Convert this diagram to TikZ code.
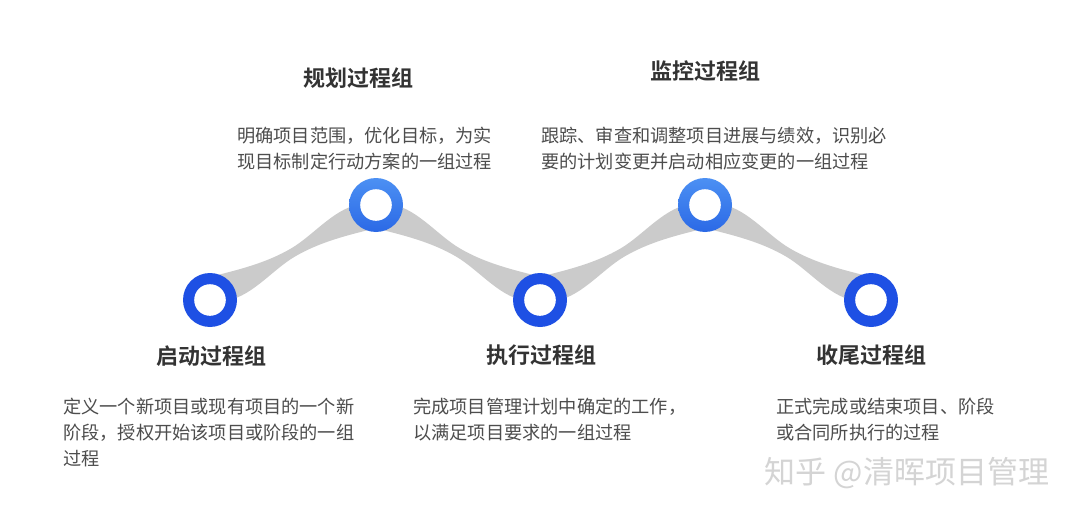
\documentclass[tikz,border=0pt]{standalone}
\usepackage{fontspec}
\usepackage{xcolor}
\usepackage{tikz}
\usetikzlibrary{calc,backgrounds}

\newfontfamily\cjk{Noto Sans CJK SC}
\newfontfamily\cjkbold{Noto Sans CJK SC Bold}

\definecolor{ringdeep}{HTML}{1E50E4}
\definecolor{ringtop}{HTML}{4C90F3}
\definecolor{ringbot}{HTML}{2B69E6}
\definecolor{ribbongray}{HTML}{CBCBCB}
\definecolor{titlegray}{HTML}{333333}
\definecolor{textgray}{HTML}{4D4D4D}
\definecolor{markgray}{HTML}{D4D4D4}

\tikzset{
    ring/.style={circle, minimum size=54pt, inner sep=0pt,
        path picture={\fill[white] (path picture bounding box.center) circle (15.8pt);}},
    ringlo/.style={ring, fill=ringdeep},
    ringhi/.style={ring, top color=ringtop, bottom color=ringbot},
    ribbon/.style={fill=ribbongray},
    title/.style={inner sep=0pt, text=titlegray, font=\cjkbold\fontsize{22}{26}\selectfont},
    desc/.style={inner sep=0pt, anchor=north west, align=left, text=textgray,
        font=\cjk\fontsize{18.2}{25.8}\selectfont},
}

\begin{document}
\begin{tikzpicture}[x=1pt, y=-1pt]
    \useasboundingbox (0,0) rectangle (1080,519);

    % Process group circles
    \foreach \n/\x/\y/\s in {c1/210/300/ringlo, c2/376/205/ringhi, c3/540/300/ringlo,
                             c4/705/205/ringhi, c5/871/300/ringlo} {
        \node[\s] (\n) at (\x,\y) {};
    }

    % Tapered ribbons between circles
    \begin{scope}[on background layer]
        \fill[white] (0,0) rectangle (1080,519);
        \foreach \a/\b/\f in {c1/c2/1, c2/c3/-1, c3/c4/1, c4/c5/-1} {
            \begin{scope}[shift={($(\a)!0.5!(\b)$)}, xscale=\f]
                \fill[ribbon] (-90,26) .. controls (-52,17) and (-26,10) .. (-2,-4)
                    .. controls (22,-18) and (43,-47) .. (72,-49) -- (90,-26)
                    .. controls (52,-17) and (26,-10) .. (2,4)
                    .. controls (-22,18) and (-43,47) .. (-72,49) -- cycle;
            \end{scope}
        }
    \end{scope}

    % Titles
    \node[title] (t1) at (211,356) {启动过程组};
    \node[title] (t2) at (358,78) {规划过程组};
    \node[title] (t3) at (541,355) {执行过程组};
    \node[title] (t4) at (705,71) {监控过程组};
    \node[title] (t5) at (871,355) {收尾过程组};

    % Descriptions
    \node[desc] (d1) at (63,398) {定义一个新项目或现有项目的一个新\\阶段，授权开始该项目或阶段的一组\\过程};
    \node[desc] (d2) at (237,127) {明确项目范围，优化目标，为实\\现目标制定行动方案的一组过程};
    \node[desc] (d3) at (413,398) {完成项目管理计划中确定的工作，\\以满足项目要求的一组过程};
    \node[desc] (d4) at (541,127) {跟踪、审查和调整项目进展与绩效，识别必\\要的计划变更并启动相应变更的一组过程};
    \node[desc] (d5) at (776,398) {正式完成或结束项目、阶段\\或合同所执行的过程};

    % Watermark
    \node[inner sep=0pt, text=markgray, font=\cjk\fontsize{31}{34}\selectfont] (mark) at (907,473) {知乎 @清晖项目管理};
\end{tikzpicture}
\end{document}
